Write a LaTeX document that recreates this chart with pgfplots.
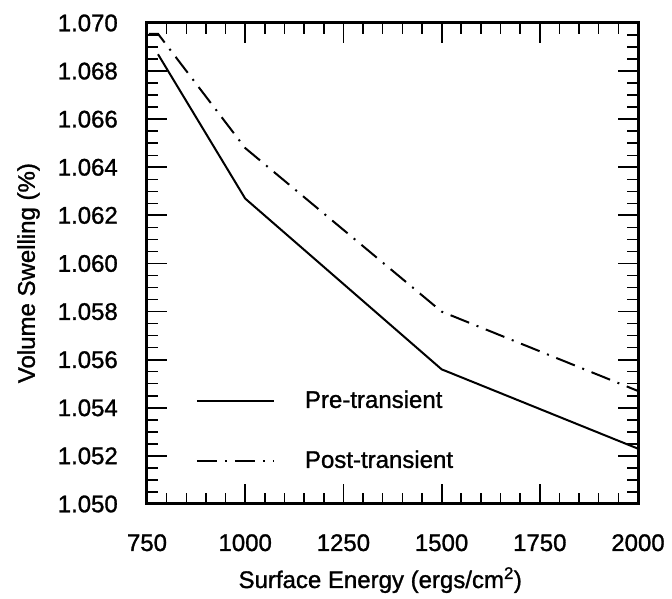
\documentclass[border=0pt]{standalone}
\usepackage{fontspec}
\setmainfont{Liberation Sans}[UprightFeatures={FakeBold=1.2}]
\usepackage{pgfplots}
\pgfplotsset{compat=1.18}
\begin{document}
\fontsize{24}{28}\selectfont
\begin{tikzpicture}
\path[use as bounding box] (-147pt,-95pt) rectangle (525pt,504pt);
\begin{axis}[
  scale only axis, width=491pt, height=481pt,
  at={(0,0)}, anchor=south west,
  xmin=750, xmax=2000, ymin=1.050, ymax=1.070,
  xtick={750,1000,1250,1500,1750,2000}, minor x tick num=4,
  ytick={1.050,1.052,1.054,1.056,1.058,1.060,1.062,1.064,1.066,1.068,1.070},
  minor y tick num=3,
  scaled y ticks=false, scaled x ticks=false,
  tick align=inside, tick pos=both,
  major tick length=20pt, minor tick length=11pt,
  axis line style={line width=3pt},
  every major tick/.style={line width=1.8pt, black},
  every minor tick/.style={line width=1.5pt, black},
  /pgf/number format/assume math mode=true,
  tick label style={font=\fontsize{24}{28}\selectfont},
  xticklabel style={anchor=base, yshift=-47pt, inner sep=0pt, /pgf/number format/1000 sep={}},
  yticklabel style={anchor=east, xshift=-29pt, inner sep=0pt,
    /pgf/number format/.cd, fixed, fixed zerofill, precision=3},
  xlabel={Surface Energy (ergs/cm\textsuperscript{2})},
  ylabel={Volume Swelling (\%)},
  every axis x label/.style={at={(axis description cs:0.475,0)}, anchor=base, yshift=-84pt, inner sep=0pt, font=\fontsize{24}{28}\selectfont},
  every axis y label/.style={at={(axis description cs:-0.218,0.48)}, rotate=90, anchor=south, inner sep=0pt, font=\fontsize{24}{28}\selectfont},
  legend cell align=left,
  legend style={at={(0.0998,0.236)}, anchor=north west, draw=none, fill=none,
    inner sep=0pt, outer sep=0pt, row sep=39pt, column sep=30pt,
    nodes={inner sep=0pt}, font=\fontsize{24}{28}\selectfont},
  legend image code/.code={\draw[#1] (0pt,0pt) -- (77pt,0pt);},
]
\addplot[black, line width=2pt] coordinates {
  (778,1.0687) (1000,1.0627) (1500,1.0556) (2000,1.0523)
};
\addlegendentry{Pre-transient}
\addplot[black, line width=2pt, dash pattern=on 20pt off 8pt on 2pt off 8pt] coordinates {
  (755,1.06955) (778,1.06955) (1000,1.0648) (1500,1.0580) (2000,1.0547)
};
\addlegendentry{Post-transient}
\end{axis}
\end{tikzpicture}
\end{document}
